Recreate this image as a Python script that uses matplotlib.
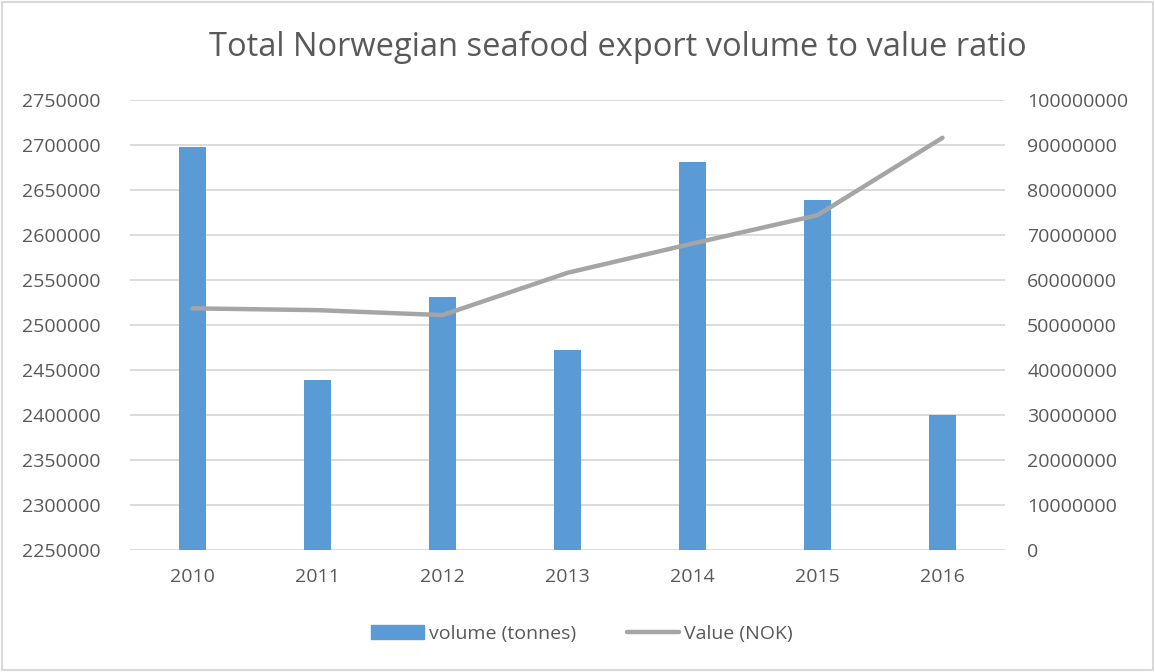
import matplotlib
matplotlib.use("Agg")
import matplotlib.pyplot as plt
from matplotlib.patches import Rectangle

# Values
years = ["2010", "2011", "2012", "2013", "2014", "2015", "2016"]
volume_tonnes = [2697400, 2438900, 2531000, 2472600, 2681400, 2638900, 2399600]
value_nok = [53700000, 53300000, 52200000, 61600000, 68100000, 74400000, 91600000]

BAR_COLOR = "#5B9BD5"
LINE_COLOR = "#A5A5A5"
TEXT_COLOR = "#595959"
GRID_COLOR = "#D9D9D9"

plt.rcParams["font.family"] = ["Open Sans", "DejaVu Sans"]

fig = plt.figure(figsize=(11.55, 6.72), dpi=100)
W, H = 1155, 672
ax = fig.add_axes([130 / W, 1 - 550 / H, 875 / W, 450 / H])
ax2 = ax.twinx()

x = range(len(years))
ax.bar(x, volume_tonnes, width=0.22, color=BAR_COLOR, zorder=2)
ax.set_ylim(2250000, 2750000)
ax.set_yticks(range(2250000, 2750001, 50000))
ax.set_xlim(-0.5, len(years) - 0.5)
ax.set_xticks(list(x))
ax.set_xticklabels(years)
ax.grid(axis="y", color=GRID_COLOR, linewidth=1.3, zorder=0)
ax.set_axisbelow(True)

ax2.plot(list(x), value_nok, color=LINE_COLOR, linewidth=3.2,
         solid_capstyle="round", solid_joinstyle="round", zorder=3)
ax2.set_ylim(0, 100000000)
ax2.set_yticks(range(0, 100000001, 10000000))

for a in (ax, ax2):
    for s in a.spines.values():
        s.set_visible(False)
    a.tick_params(length=0, colors=TEXT_COLOR, labelsize=14)
    a.ticklabel_format(axis="y", style="plain", useOffset=False)
ax.tick_params(axis="y", pad=78)
ax.tick_params(axis="x", pad=13)
ax2.tick_params(axis="y", pad=16)
for lbl in ax.get_yticklabels():
    lbl.set_horizontalalignment("left")

fig.text(618 / W, 1 - 47 / H, "Total Norwegian seafood export volume to value ratio",
         ha="center", va="center", fontsize=23.5, color=TEXT_COLOR)

# legend
bar_handle = Rectangle((0, 0), 1, 1, color=BAR_COLOR)
line_handle = plt.Line2D([], [], color=LINE_COLOR, linewidth=3.2, solid_capstyle="round")
fig.legend([bar_handle, line_handle], ["volume (tonnes)", "Value (NOK)"],
           loc="center", bbox_to_anchor=(582 / W, 1 - 634 / H), ncol=2, frameon=False,
           fontsize=14, labelcolor=TEXT_COLOR, handlelength=2.7, handleheight=0.72,
           handletextpad=0.25, columnspacing=2.6)

# chart border
fig.patches.append(Rectangle((0.002, 0.003), 0.996, 0.994, transform=fig.transFigure,
                             fill=False, edgecolor="#D9D9D9", linewidth=1.5))

fig.savefig("out.png", dpi=100)
